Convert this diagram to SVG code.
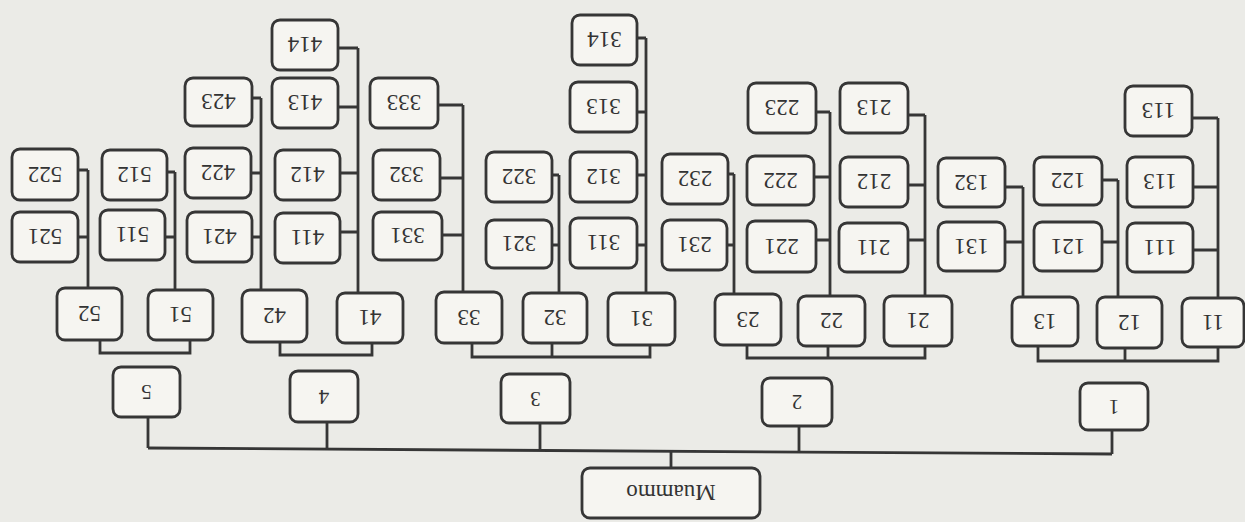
<svg xmlns="http://www.w3.org/2000/svg" width="1245" height="522" viewBox="0 0 1245 522">
<style>
.bg{fill:#ebebe7}
.n rect{fill:#f6f5f1;stroke:#363636;stroke-width:2.8}
.n text{font-family:"Liberation Serif","DejaVu Serif",serif;font-size:23px;fill:#333;text-anchor:middle}
.n.l1 text{font-size:21px}
#root text{font-size:23px}
#conn path{fill:none;stroke:#363636;stroke-width:2.8}
</style>
<rect class="bg" x="0" y="0" width="1245" height="522"/>
<g id="conn">
<path d="M148,448 L1112,454"/>
<path d="M148,417 V448 M327,422 V450 M540,423 V451 M799,426 V452 M1112,430 V454 M671,452 V468"/>
<path d="M100,340 V353 H190 V340"/>
<path d="M280,342 V355 H372 V343"/>
<path d="M472,343 V357 H650 V345 M552,343 V357"/>
<path d="M747,345 V358 H925 V346 M828,346 V358"/>
<path d="M1038,346 V361 H1218 V347 M1125,348 V361"/>
<path d="M88,288 V170 M78,170 H88 M78,237 H88"/>
<path d="M175,290 V172 M167,172 H175 M165,237 H175"/>
<path d="M261,290 V98 M252,98 H261 M251,173 H261 M252,237 H261"/>
<path d="M358,293 V48 M338,48 H358 M338,107 H358 M340,173 H358 M340,232 H358"/>
<path d="M463,292 V105 M438,105 H463 M440,178 H463 M442,235 H463"/>
<path d="M559,293 V175 M552,175 H559 M552,245 H559"/>
<path d="M646,293 V38 M637,38 H646 M637,112 H646 M637,175 H646 M637,245 H646"/>
<path d="M734,294 V174 M728,174 H734 M727,245 H734"/>
<path d="M830,296 V112 M816,112 H830 M814,177 H830 M816,240 H830"/>
<path d="M925,296 V115 M908,115 H925 M908,185 H925 M908,240 H925"/>
<path d="M1023,297 V187 M1005,187 H1023 M1005,242 H1023"/>
<path d="M1118,297 V180 M1102,180 H1118 M1102,242 H1118"/>
<path d="M1218,298 V118 M1192,118 H1218 M1193,187 H1218 M1193,250 H1218"/>
</g>
<g id="root" class="n"><rect x="582" y="468" width="178" height="50" rx="8"/><text x="671" y="501" transform="rotate(180 671 493)">Muammo</text></g>
<g id="n5" class="n l1"><rect x="113" y="367" width="67" height="50" rx="8"/><text x="146.5" y="399" transform="rotate(180 146.5 392)">5</text></g>
<g id="n4" class="n l1"><rect x="290" y="371" width="68" height="51" rx="8"/><text x="324" y="403.5" transform="rotate(180 324 396.5)">4</text></g>
<g id="n3" class="n l1"><rect x="501" y="374" width="69" height="49" rx="8"/><text x="535.5" y="405.5" transform="rotate(180 535.5 398.5)">3</text></g>
<g id="n2" class="n l1"><rect x="762" y="378" width="70" height="48" rx="8"/><text x="797" y="409" transform="rotate(180 797 402)">2</text></g>
<g id="n1" class="n l1"><rect x="1080" y="383" width="68" height="47" rx="8"/><text x="1114" y="413.5" transform="rotate(180 1114 406.5)">1</text></g>
<g id="n52" class="n"><rect x="57" y="288" width="65" height="52" rx="8"/><text x="89.5" y="322" transform="rotate(180 89.5 314)">52</text></g>
<g id="n51" class="n"><rect x="148" y="290" width="65" height="50" rx="8"/><text x="180.5" y="323" transform="rotate(180 180.5 315)">51</text></g>
<g id="n42" class="n"><rect x="242" y="290" width="65" height="52" rx="8"/><text x="274.5" y="324" transform="rotate(180 274.5 316)">42</text></g>
<g id="n41" class="n"><rect x="337" y="293" width="66" height="50" rx="8"/><text x="370" y="326" transform="rotate(180 370 318)">41</text></g>
<g id="n33" class="n"><rect x="436" y="292" width="66" height="51" rx="8"/><text x="469" y="325.5" transform="rotate(180 469 317.5)">33</text></g>
<g id="n32" class="n"><rect x="523" y="293" width="64" height="50" rx="8"/><text x="555" y="326" transform="rotate(180 555 318)">32</text></g>
<g id="n31" class="n"><rect x="608" y="293" width="67" height="52" rx="8"/><text x="641.5" y="327" transform="rotate(180 641.5 319)">31</text></g>
<g id="n23" class="n"><rect x="715" y="294" width="66" height="51" rx="8"/><text x="748" y="327.5" transform="rotate(180 748 319.5)">23</text></g>
<g id="n22" class="n"><rect x="798" y="296" width="67" height="50" rx="8"/><text x="831.5" y="329" transform="rotate(180 831.5 321)">22</text></g>
<g id="n21" class="n"><rect x="884" y="296" width="68" height="50" rx="8"/><text x="918" y="329" transform="rotate(180 918 321)">21</text></g>
<g id="n13" class="n"><rect x="1012" y="297" width="66" height="49" rx="8"/><text x="1045" y="329.5" transform="rotate(180 1045 321.5)">13</text></g>
<g id="n12" class="n"><rect x="1097" y="297" width="65" height="51" rx="8"/><text x="1129.5" y="330.5" transform="rotate(180 1129.5 322.5)">12</text></g>
<g id="n11" class="n"><rect x="1182" y="298" width="62" height="49" rx="8"/><text x="1213" y="330.5" transform="rotate(180 1213 322.5)">11</text></g>
<g id="n522" class="n"><rect x="12" y="149" width="66" height="51" rx="8"/><text x="45" y="182.5" transform="rotate(180 45 174.5)">522</text></g>
<g id="n521" class="n"><rect x="12" y="212" width="66" height="50" rx="8"/><text x="45" y="245" transform="rotate(180 45 237)">521</text></g>
<g id="n512" class="n"><rect x="102" y="150" width="65" height="50" rx="8"/><text x="134.5" y="183" transform="rotate(180 134.5 175)">512</text></g>
<g id="n511" class="n"><rect x="100" y="210" width="65" height="50" rx="8"/><text x="132.5" y="243" transform="rotate(180 132.5 235)">511</text></g>
<g id="n423" class="n"><rect x="185" y="78" width="67" height="48" rx="8"/><text x="218.5" y="110" transform="rotate(180 218.5 102)">423</text></g>
<g id="n422" class="n"><rect x="185" y="148" width="66" height="50" rx="8"/><text x="218" y="181" transform="rotate(180 218 173)">422</text></g>
<g id="n421" class="n"><rect x="187" y="212" width="65" height="50" rx="8"/><text x="219.5" y="245" transform="rotate(180 219.5 237)">421</text></g>
<g id="n414" class="n"><rect x="272" y="20" width="66" height="50" rx="8"/><text x="305" y="53" transform="rotate(180 305 45)">414</text></g>
<g id="n413" class="n"><rect x="272" y="78" width="66" height="50" rx="8"/><text x="305" y="111" transform="rotate(180 305 103)">413</text></g>
<g id="n412" class="n"><rect x="275" y="150" width="65" height="50" rx="8"/><text x="307.5" y="183" transform="rotate(180 307.5 175)">412</text></g>
<g id="n411" class="n"><rect x="275" y="213" width="65" height="50" rx="8"/><text x="307.5" y="246" transform="rotate(180 307.5 238)">411</text></g>
<g id="n333" class="n"><rect x="370" y="78" width="68" height="50" rx="8"/><text x="404" y="111" transform="rotate(180 404 103)">333</text></g>
<g id="n332" class="n"><rect x="373" y="150" width="67" height="50" rx="8"/><text x="406.5" y="183" transform="rotate(180 406.5 175)">332</text></g>
<g id="n331" class="n"><rect x="373" y="212" width="69" height="48" rx="8"/><text x="407.5" y="244" transform="rotate(180 407.5 236)">331</text></g>
<g id="n322" class="n"><rect x="486" y="152" width="66" height="50" rx="8"/><text x="519" y="185" transform="rotate(180 519 177)">322</text></g>
<g id="n321" class="n"><rect x="486" y="220" width="66" height="48" rx="8"/><text x="519" y="252" transform="rotate(180 519 244)">321</text></g>
<g id="n314" class="n"><rect x="572" y="15" width="65" height="50" rx="8"/><text x="604.5" y="48" transform="rotate(180 604.5 40)">314</text></g>
<g id="n313" class="n"><rect x="570" y="82" width="67" height="50" rx="8"/><text x="603.5" y="115" transform="rotate(180 603.5 107)">313</text></g>
<g id="n312" class="n"><rect x="570" y="152" width="67" height="50" rx="8"/><text x="603.5" y="185" transform="rotate(180 603.5 177)">312</text></g>
<g id="n311" class="n"><rect x="570" y="218" width="67" height="50" rx="8"/><text x="603.5" y="251" transform="rotate(180 603.5 243)">311</text></g>
<g id="n232" class="n"><rect x="662" y="154" width="66" height="50" rx="8"/><text x="695" y="187" transform="rotate(180 695 179)">232</text></g>
<g id="n231" class="n"><rect x="662" y="220" width="65" height="50" rx="8"/><text x="694.5" y="253" transform="rotate(180 694.5 245)">231</text></g>
<g id="n223" class="n"><rect x="748" y="83" width="68" height="50" rx="8"/><text x="782" y="116" transform="rotate(180 782 108)">223</text></g>
<g id="n222" class="n"><rect x="747" y="156" width="67" height="49" rx="8"/><text x="780.5" y="188.5" transform="rotate(180 780.5 180.5)">222</text></g>
<g id="n221" class="n"><rect x="747" y="221" width="69" height="51" rx="8"/><text x="781.5" y="254.5" transform="rotate(180 781.5 246.5)">221</text></g>
<g id="n213" class="n"><rect x="840" y="83" width="68" height="50" rx="8"/><text x="874" y="116" transform="rotate(180 874 108)">213</text></g>
<g id="n212" class="n"><rect x="840" y="157" width="68" height="50" rx="8"/><text x="874" y="190" transform="rotate(180 874 182)">212</text></g>
<g id="n211" class="n"><rect x="839" y="223" width="69" height="49" rx="8"/><text x="873.5" y="255.5" transform="rotate(180 873.5 247.5)">211</text></g>
<g id="n132" class="n"><rect x="938" y="158" width="67" height="49" rx="8"/><text x="971.5" y="190.5" transform="rotate(180 971.5 182.5)">132</text></g>
<g id="n131" class="n"><rect x="938" y="222" width="67" height="49" rx="8"/><text x="971.5" y="254.5" transform="rotate(180 971.5 246.5)">131</text></g>
<g id="n122" class="n"><rect x="1034" y="157" width="68" height="48" rx="8"/><text x="1068" y="189" transform="rotate(180 1068 181)">122</text></g>
<g id="n121" class="n"><rect x="1034" y="222" width="68" height="49" rx="8"/><text x="1068" y="254.5" transform="rotate(180 1068 246.5)">121</text></g>
<g id="n113a" class="n"><rect x="1125" y="86" width="67" height="50" rx="8"/><text x="1158.5" y="119" transform="rotate(180 1158.5 111)">113</text></g>
<g id="n113b" class="n"><rect x="1127" y="157" width="66" height="50" rx="8"/><text x="1160" y="190" transform="rotate(180 1160 182)">113</text></g>
<g id="n111" class="n"><rect x="1127" y="223" width="66" height="49" rx="8"/><text x="1160" y="255.5" transform="rotate(180 1160 247.5)">111</text></g>
</svg>
